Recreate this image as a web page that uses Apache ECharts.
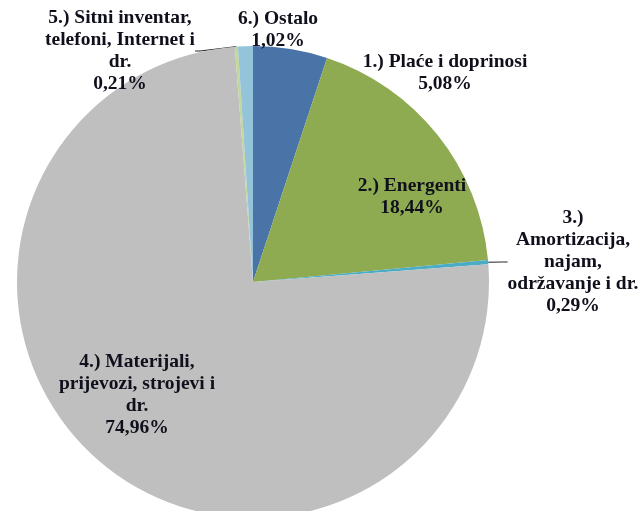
<!DOCTYPE html>
<html><head><meta charset="utf-8">
<script src="https://cdn.jsdelivr.net/npm/echarts@6/dist/echarts.min.js"></script>
<style>html,body{margin:0;padding:0;background:#fff}#c{width:642px;height:511px}</style>
</head><body><div id="c"></div>
<script>
const names = ["1.) Plaće i doprinosi", "2.) Energenti", "3.)\nAmortizacija,\nnajam,\nodržavanje i dr.", "4.) Materijali,\nprijevozi, strojevi i\ndr.", "5.) Sitni inventar,\ntelefoni, Internet i\ndr.", "6.) Ostalo"];
const values = [5.08, 18.44, 0.29, 74.96, 0.21, 1.02];
const valueLabels = ["5,08%", "18,44%", "0,29%", "74,96%", "0,21%", "1,02%"];

const colors = ["#4A73A8", "#8EAB51", "#4BACC6", "#BFBFBF", "#C3D69B", "#93C4D9"];
const labelPos = [[445, 73], [412, 197], [573, 262], [137, 395], [120, 51], [278, 30]];
const showLine = [false, false, true, false, true, false];

const chart = echarts.init(document.getElementById('c'), null, {renderer: 'canvas'});
chart.setOption({
  animation: false,
  series: [{
    type: 'pie',
    center: [253, 282],
    radius: 236,
    startAngle: 90,
    clockwise: true,
    avoidLabelOverlap: false,
    data: values.map((v, i) => ({
      value: v,
      name: names[i],
      itemStyle: {color: colors[i]},
      labelLine: {show: showLine[i], lineStyle: {color: '#222', width: 1}}
    })),
    label: {
      show: true,
      position: 'outside',
      formatter: p => p.name + '\n' + valueLabels[p.dataIndex],
      fontFamily: 'Liberation Serif',
      fontWeight: 'bold',
      fontSize: 19.5,
      lineHeight: 22,
      color: '#10101c',
      align: 'center'
    },
    labelLine: {length: 5, length2: 5, smooth: false},
    labelLayout: function (p) {
      const pos = labelPos[p.dataIndex];
      return {x: pos[0], y: pos[1], align: 'center', verticalAlign: 'middle'};
    },
    emphasis: {disabled: true}
  }]
});
</script></body></html>
